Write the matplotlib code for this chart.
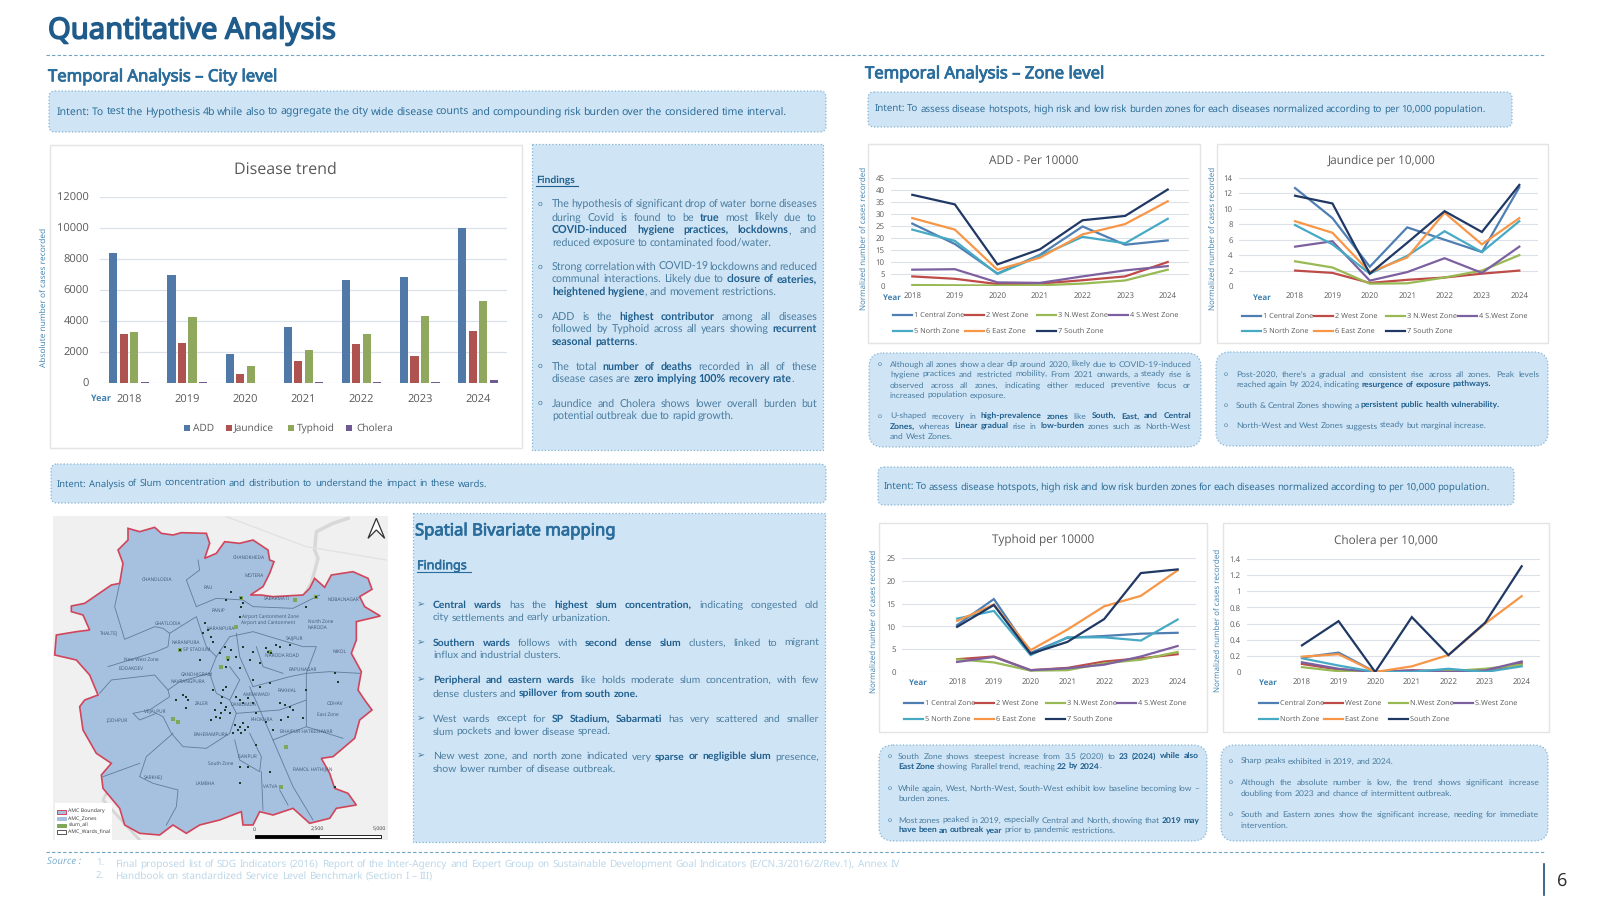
import numpy as np
import matplotlib
matplotlib.use('Agg')
import matplotlib.pyplot as plt
import matplotlib.patheffects as pe
from matplotlib.patches import FancyBboxPatch, Rectangle, Polygon

plt.rcParams['text.hinting'] = 'none'

years = ['2018', '2019', '2020', '2021', '2022', '2023', '2024']

# city level counts
add_cases = [8400, 6970, 1900, 3600, 6630, 6850, 10000]
jaundice_cases = [3150, 2600, 550, 1420, 2520, 1730, 3380]
typhoid_cases = [3270, 4280, 1100, 2100, 3170, 4330, 5320]
cholera_cases = [80, 80, 20, 70, 40, 70, 190]

# zone level, normalized per 10000
add_zones = [
    [26, 17.5, 5.2, 13, 24.8, 17.2, 19],
    [4, 3, 0.8, 1, 2.4, 4, 10],
    [0.4, 0.3, 0.2, 0.3, 1, 2.3, 6.8],
    [6.8, 7, 1.5, 1.3, 4, 6.5, 8.3],
    [23.5, 18.8, 5, 12.5, 20.5, 17.8, 28],
    [28.3, 23.5, 6.8, 11.8, 21.5, 25.8, 35.3],
    [38, 34, 9, 15.3, 27.4, 29.2, 40.2],
]
jaundice_zones = [
    [12.7, 8.8, 2.5, 7.6, 6, 4.4, 12.8],
    [2, 1.7, 0.4, 0.8, 1.1, 1.6, 2],
    [3.2, 2.4, 0.3, 0.35, 1.1, 2, 4],
    [5.1, 5.8, 0.7, 1.8, 3.6, 1.7, 5.1],
    [7.9, 5.4, 1.6, 3.9, 7.1, 4.4, 8.4],
    [8.4, 6.9, 1.8, 3.7, 9.5, 5.4, 8.8],
    [11.7, 10.7, 1.6, 5.6, 9.7, 7, 13.1],
]
typhoid_zones = [
    [10.3, 16, 4.2, 7.5, 7.9, 8.4, 8.6],
    [2.8, 3.4, 0.4, 0.9, 2.3, 3, 3.9],
    [2.8, 2.1, 0.3, 0.4, 1.9, 2.7, 4.4],
    [2.2, 3.3, 0.4, 0.8, 1.6, 3.4, 5.7],
    [11.7, 13.4, 3.7, 7.6, 7.6, 6.9, 11.5],
    [11.2, 14.8, 4.8, 9.3, 14.4, 16.7, 22.3],
    [9.9, 14.7, 4, 6.6, 11.6, 21.7, 22.5],
]
cholera_zones = [
    [0.18, 0.24, 0, 0.01, 0.02, 0.01, 0.12],
    [0.1, 0.03, 0, 0.02, 0.01, 0.01, 0.1],
    [0.06, 0.01, 0, 0.01, 0.01, 0.04, 0.09],
    [0.12, 0.04, 0, 0.02, 0, 0.02, 0.13],
    [0.17, 0.08, 0, 0, 0.04, 0, 0.07],
    [0.19, 0.22, 0, 0.07, 0.21, 0.6, 0.94],
    [0.33, 0.63, 0, 0.68, 0.21, 0.61, 1.31],
]
zone_names = ['1 Central Zone', '2 West Zone', '3 N.West Zone', '4 S.West Zone',
              '5 North Zone', '6 East Zone', '7 South Zone']
cholera_names = ['Central Zone', 'West Zone', 'N.West Zone', 'S.West Zone',
                 'North Zone', 'East Zone', 'South Zone']
zone_colors = ['#4F7FB2', '#BE4B48', '#98B954', '#7D60A0', '#46AAC5', '#F79646', '#203864']

# map outline and lines, in pixels of the map crop
boundary = [(265,85),(300,95),(345,82),(365,100),(400,105),(425,98),(500,100),(510,130),(495,175),(530,160),
            (555,125),(600,130),(640,120),(685,150),(690,180),(703,185),(690,220),(670,260),(632,285),(665,285),(700,290),
            (790,285),(810,265),(825,235),(855,262),(875,225),(940,215),(985,235),(997,268),(960,290),(975,320),
            (1022,348),(950,365),(950,420),(935,460),(965,515),(955,570),(975,600),(997,630),(960,660),(945,715),
            (880,770),(845,775),(870,820),(885,865),(925,880),(950,915),(890,925),(870,955),(810,970),(760,925),
            (700,945),(660,935),(640,975),(610,975),(605,935),(540,960),(480,975),(440,1000),(400,975),(360,1005),
            (300,1000),(255,975),(240,925),(190,865),(185,825),(215,790),(170,760),(130,690),(120,620),(135,600),
            (175,585),(150,525),(110,480),(45,465),(50,405),(110,395),(150,390),(130,345),(95,335),(95,318),
            (135,310),(215,255),(240,250),(250,190),(235,150),(265,120)]
zone_lines = [
    [(240,250),(225,320),(255,418),(345,380),(370,385),(390,400)],
    [(470,320),(440,240),(480,210),(475,180)],
    [(470,320),(530,295),(610,300),(640,320),(760,325),(840,285)],
    [(205,500),(350,455),(385,440),(390,400),(470,350),(500,440),(530,470)],
    [(180,580),(215,540),(345,525),(385,570),(390,590),(330,630),(280,640),(300,660),(350,640),(370,650),(395,700),(430,740),(500,745),(570,700)],
    [(300,830),(320,770),(400,700)],
    [(300,830),(340,850),(415,870),(410,920),(380,975)],
    [(190,830),(300,790)],
    [(630,560),(700,720),(760,860),(820,960)],
    [(585,720),(600,780),(660,815),(665,770),(630,700)],
    [(665,815),(670,930)],
    [(720,870),(745,915)],
    [(530,470),(570,410),(640,395),(790,440),(830,440),(800,520),(870,515),(960,520)],
    [(800,520),(800,680),(910,715)],
    [(700,720),(800,680)],
    [(510,520),(530,580),(570,600),(590,640),(570,700)],
    [(590,400),(600,470),(640,560)],
    [(530,470),(510,520),(420,545),(385,570)],
    [(640,560),(750,530),(800,520)],
    [(590,640),(720,630),(800,600)],
    [(570,500),(600,540),(570,600)],
    [(650,440),(670,500),(730,520)],
]
river = [(925,55),(880,70),(830,95),(825,150),(835,175),(815,250),(800,275)]
slum_dark = [(605,295),(575,275),(560,300),(610,310),(495,370),(520,425),(420,450),(565,480),(590,470),(640,455),
             (685,455),(720,440),(750,435),(545,640),(530,650),(515,660),(560,620),(600,600),(640,610),(440,590),
             (600,680),(615,690),(585,675),(735,615),(745,650),(800,570),(885,520),(895,545),(830,290),(800,320),
             (650,735),(600,800),(625,800),(690,815),(600,850),(885,860),(480,480),(520,570),(550,570),(700,690),(790,655),
             (555,440),(575,450),(610,440),(630,480),(660,490),(680,445),(695,460),(710,435),(540,460),(560,500),(600,505),
             (545,610),(555,630),(570,640),(540,655),(525,630),(590,590),(610,610),(625,595),(650,640),(680,665),(720,610),
             (750,620),(725,660),(760,630),(610,670),(595,690),(625,680),(580,700),(605,700),(445,600),(430,585),(505,390),
             (490,400),(515,410),(600,350),(605,320),(660,560),(690,550),(640,540),(560,560),(548,590),(440,625),(410,600)]
slum_green = [(605,295),(590,380),(420,450),(565,475),(545,500),(400,658),(415,665),(740,740),(725,860),(830,290),(765,300),(690,455)]
ward_labels = [('CHANDLODIA',353,240),('CHANDKHEDA',628,172),('MOTERA',643,226),('RAU',507,263),('RANIP',537,333),
               ('GHATLODIA',385,370),('THALTEJ',207,400),('NARANPURA',438,428),('SP STADIUM',472,450),('New West Zone',305,480),
               ('BODAKDEV',275,507),('GANDHIGRAM',472,523),('NAVRANGPURA',445,544),('JODHPUR',232,662),('VEJALPUR',345,636),
               ('BAHERAMPURA',513,703),('South Zone',543,792),('SARKHEJ',340,833),('LAMBHA',497,850),('VATVA',690,860),
               ('ISANPUR',622,770),('RAMOL HATHIJAN',820,808),('East Zone',863,645),('ODHAV',885,610),('NIKOL',900,456),
               ('BAPUNAGAR',790,510),('RAKHIAL',742,572),('NARODA',832,384),('North Zone',842,365),('NOBALNAGAR',912,298),
               ('SABARMATI',712,295),('Airport Cantonment Zone',693,349),('Airport and Cantonment',685,370),('SAIJPUR',765,415),
               ('NARODA ROAD',727,466),('AMRAIWADI',650,585),('KHOKHRA',665,658),('BHAIPUR HATKESHWAR',800,695),('ZALER',485,612),
               ('NARANPURA',543,385),('DANILIMDA',610,615)]

BODY = 'Lato'
HEAD = 'Noto Sans'
CHART = 'Open Sans'
TXT = '#4A7DA0'
BOLD = '#1F5F8E'
BOX = '#CFE4F5'
EDGE = '#86B4D3'
BLUE = '#3F80AE'
GRAY = '#595959'

fig = plt.figure(figsize=(16, 9), dpi=100, facecolor='white')
bg = fig.add_axes([0, 0, 1, 1], zorder=0)
bg.set_xlim(0, 1600)
bg.set_ylim(900, 0)
bg.axis('off')
renderer = fig.canvas.get_renderer()


def px_axes(x0, y0, x1, y1, z=2):
    ax = fig.add_axes([x0 / 1600, 1 - y1 / 900, (x1 - x0) / 1600, (y1 - y0) / 900], zorder=z)
    ax.patch.set_alpha(0)
    return ax


def box(x0, y0, x1, y1, rad=0, fc=BOX, ec=EDGE, ls=':'):
    style = 'round,pad=0,rounding_size=%d' % rad if rad else 'square,pad=0'
    bg.add_patch(FancyBboxPatch((x0, y0), x1 - x0, y1 - y0, boxstyle=style, fc=fc, ec=ec, lw=0.9, ls=ls))


def heading(x, y, s, size, color, width=0.6, **kw):
    # Noto Sans here has no bold face, a thin stroke thickens it
    t = bg.text(x, y, s, fontsize=size, family=HEAD, color=color, va='center', **kw)
    t.set_path_effects([pe.withStroke(linewidth=width, foreground=color)])
    return t


def line(x0, x1, y, s, size=7.5, fam=BODY, just=True, color=TXT, bold=BOLD):
    # **word** marks bold text, justified lines are spread between x0 and x1
    words = []
    parts = s.split('**')
    for i, part in enumerate(parts):
        glued = i > 0 and bool(parts[i - 1]) and bool(part) and not part[0].isspace() and not parts[i - 1][-1].isspace()
        for j, w in enumerate(part.split()):
            words.append((w, i % 2 == 1, glued and j == 0))
    base = y + size * 1.39 * 0.36
    items = []
    for w, b, g in words:
        t = bg.text(x0, base, w, fontsize=size, family=fam, fontweight='bold' if b else 'normal',
                    color=bold if b else color, va='baseline')
        items.append((t, t.get_window_extent(renderer).width, g))
    total = sum(i[1] for i in items)
    gaps = sum(1 for i in items[1:] if not i[2])
    gap = size * 1.39 * 0.22
    if just and gaps:
        gap = (x1 - x0 - total) / gaps
    x = x0
    for k, (t, wd, g) in enumerate(items):
        if k and not g:
            x += gap
        t.set_x(x)
        x += wd


def block(x0, x1, xb, rows, size=7.5, mark='o', msize=6):
    # rows: (y, text, justified, starts a paragraph)
    for y, s, just, first in rows:
        line(x0, x1, y, s, size=size, just=just)
        if first:
            bg.text(xb, y, mark, fontsize=msize, color=TXT, ha='center', va='center',
                    family='DejaVu Sans' if mark != 'o' else BODY)


def zone_chart(frame, plot, yticks, ylabels, data, names, title, tx, ty, ylx, yly, yearx, yeary, xlo, leg_x, leg_y, leg_dx):
    bg.add_patch(Rectangle((frame[0], frame[1]), frame[2] - frame[0], frame[3] - frame[1], fc='white', ec='#E4E4E4', lw=1))
    ax = px_axes(*plot)
    x = np.arange(len(years))
    for vals, col in zip(data, zone_colors):
        ax.plot(x, vals, color=col, lw=1.6, solid_joinstyle='miter')
    ax.set_xlim(xlo, 6.5)
    ax.set_ylim(yticks[0], yticks[-1])
    ax.set_xticks(x, years)
    ax.set_yticks(yticks, ylabels)
    ax.grid(axis='y', color='#DCE0E8', lw=0.8)
    ax.set_axisbelow(True)
    ax.tick_params(length=0, labelsize=5.7, labelcolor=GRAY, pad=4.5)
    for tick in ax.get_xticklabels() + ax.get_yticklabels():
        tick.set_family(CHART)
    for sp in ax.spines.values():
        sp.set_visible(False)
    bg.text(tx, ty + 1, title, fontsize=8.5, family=CHART, color=GRAY, ha='center', va='center', zorder=3)
    bg.text(ylx, yly, 'Normalized number of cases recorded', fontsize=5.8, family=CHART, color=BLUE,
            rotation=90, ha='center', va='center', zorder=3)
    bg.text(yearx, yeary, 'Year', fontsize=5.8, family=CHART, fontweight='bold', color=BLUE, ha='center', va='center', zorder=3)
    for i, (name, col) in enumerate(zip(names, zone_colors)):
        lx = leg_x + (i % 4) * leg_dx
        ly = leg_y[i // 4]
        bg.plot([lx, lx + 19], [ly, ly], color=col, lw=1.6, zorder=3)
        bg.text(lx + 21, ly + 0.5, name, fontsize=5.3, family=CHART, color=GRAY, va='center', zorder=3)


# header
heading(48, 31, 'Quantitative Analysis', 21, '#1F5C8C', width=1.1)
bg.plot([46, 1546], [55, 55], color='#6FA3C4', lw=0.8, ls=(0, (3, 2)))
bg.plot([46, 1546], [852, 852], color='#6FA3C4', lw=0.8, ls=(0, (3, 2)))
heading(48, 77, 'Temporal Analysis – City level', 12, '#2A6D9C')
heading(865, 74, 'Temporal Analysis – Zone level', 12, '#2A6D9C')

# intent strips
box(49, 91, 826, 132, 6)
line(57, 786, 111, 'Intent: To test the Hypothesis 4b while also to aggregate the city wide disease counts and compounding risk burden over the considered time interval.', size=7.6, fam=HEAD, color='#2F6F9A')
box(868, 92, 1512, 127, 6)
line(875, 1486, 108, 'Intent: To assess disease hotspots, high risk and low risk burden zones for each diseases normalized according to per 10,000 population.', size=7.0, fam=HEAD, color='#2F6F9A')
box(51, 464, 826, 503, 6)
line(57, 487, 483, 'Intent: Analysis of Slum concentration and distribution to understand the impact in these wards.', size=6.8, fam=HEAD, color='#2F6F9A')
box(878, 467, 1514, 505, 6)
line(884, 1490, 486, 'Intent: To assess disease hotspots, high risk and low risk burden zones for each diseases normalized according to per 10,000 population.', size=7.0, fam=HEAD, color='#2F6F9A')

# disease trend bars
bg.add_patch(Rectangle((50, 145), 472, 303, fc='white', ec='#E4E4E4', lw=1))
ax = px_axes(100, 197, 507, 383)
x = np.arange(len(years))
bar_series = [add_cases, jaundice_cases, typhoid_cases, cholera_cases]
bar_names = ['ADD', 'Jaundice', 'Typhoid', 'Cholera']
bar_colors = ['#5179A8', '#AF5350', '#90A85E', '#6F5A92']
for i, (vals, col) in enumerate(zip(bar_series, bar_colors)):
    ax.bar(x + (i - 1.5) * 0.18, vals, width=0.14, color=col)
ax.set_xlim(-0.5, 6.5)
ax.set_ylim(0, 12000)
ax.set_xticks(x, years)
ax.set_yticks(range(0, 12001, 2000))
ax.grid(axis='y', color='#DCE0E8', lw=0.9)
ax.set_axisbelow(True)
ax.tick_params(length=0, labelsize=8, labelcolor=GRAY)
ax.tick_params(axis='x', pad=8.5)
ax.tick_params(axis='y', pad=8)
for tick in ax.get_xticklabels() + ax.get_yticklabels():
    tick.set_family(CHART)
for sp in ax.spines.values():
    sp.set_visible(False)
bg.text(285, 170, 'Disease trend', fontsize=11.5, family=CHART, color=GRAY, ha='center', va='center')
bg.text(44, 297, 'Absolute number of cases recorded', fontsize=6, family=CHART, color=BLUE, rotation=90, ha='center', va='center')
bg.text(101, 399, 'Year', fontsize=6.5, family=CHART, fontweight='bold', color=BLUE, ha='center', va='center')
for name, col, sx, tx in zip(bar_names, bar_colors, [187, 229, 291, 349], [193, 234, 297, 356]):
    bg.add_patch(Rectangle((sx - 3, 425), 6, 6, fc=col, ec='none'))
    bg.text(tx, 428.5, name, fontsize=7.3, family=CHART, color=GRAY, va='center')

# findings next to the bars
box(532, 144, 823, 450)
line(536, 0, 179, '**Findings**', size=7.5, just=False)
bg.plot([536, 578], [186, 186], color=BOLD, lw=0.8)
block(552, 817, 540, [
    (203.3, 'The hypothesis of significant drop of water borne diseases', True, True),
    (216.7, 'during Covid is found to be **true** most likely due to', True, False),
    (229.3, '**COVID-induced hygiene practices, lockdowns**, and', True, False),
    (241.7, 'reduced exposure to contaminated food/water.', False, False),
    (266.3, 'Strong correlation with COVID-19 lockdowns and reduced', True, True),
    (278.3, 'communal interactions. Likely due to **closure of eateries,**', True, False),
    (291, '**heightened hygiene**, and movement restrictions.', False, False),
    (315.7, 'ADD is the **highest contributor** among all diseases', True, True),
    (328.3, 'followed by Typhoid across all years showing **recurrent**', True, False),
    (341, '**seasonal patterns**.', False, False),
    (365.7, 'The total **number of deaths** recorded in all of these', True, True),
    (378.3, 'disease cases are **zero implying 100% recovery rate**.', False, False),
    (403, 'Jaundice and Cholera shows lower overall burden but', True, True),
    (415.3, 'potential outbreak due to rapid growth.', False, False),
], size=7.7)

# map
mp = px_axes(53, 516, 388, 840, z=1)
mp.set_xlim(40, 1045)
mp.set_ylim(1020, 48)
mp.patch.set_alpha(1)
mp.set_facecolor('#F0F0F0')
mp.set_xticks([])
mp.set_yticks([])
for sp in mp.spines.values():
    sp.set_visible(False)
mp.plot(*zip(*river), color='#D8D8D8', lw=2.5)
mp.plot([560, 800, 1040], [50, 140, 180], color='#E2E2E2', lw=1)
mp.plot([300, 190, 210], [1020, 900, 860], color='#D6D6D6', lw=2)
mp.add_patch(Polygon(boundary, closed=True, fc='#A6C0E0', ec='#D1455B', lw=1.2, zorder=2))
for seg in zone_lines:
    mp.plot(*zip(*seg), color='#5F7C9A', lw=0.6, zorder=3)
mp.scatter(*zip(*slum_green), s=9, color='#7EA75A', marker='s', lw=0, zorder=4)
mp.scatter(*zip(*slum_dark), s=2.5, color='#1D3B2F', marker='s', lw=0, zorder=5)
for name, lx, ly in ward_labels:
    mp.text(lx, ly, name, fontsize=3.4, family=CHART, color='#3F5670', ha='center', va='center', zorder=6)
mp.add_patch(Polygon([(1010, 55), (985, 115), (1010, 90), (1035, 115)], closed=True, fc='white', ec='#333333', lw=0.9, zorder=6))
mp.add_patch(Rectangle((45, 908), 172, 112, fc='white', ec='none', zorder=6))
map_legend = ['AMC Boundary', 'AMC_Zones', 'slum_all', 'AMC_Wards_final']
map_fc = ['#A6C0E0', '#A6C0E0', '#7EA75A', 'white']
map_ec = ['#D1455B', '#A6C0E0', '#7EA75A', '#555555']
for i, (name, fc, ec) in enumerate(zip(map_legend, map_fc, map_ec)):
    ly = 936 + i * 20
    mp.add_patch(Rectangle((52, ly - 5), 28, 10, fc=fc, ec=ec, lw=0.7, zorder=7))
    mp.text(86, ly, name, fontsize=3.8, family=CHART, color='#333333', va='center', zorder=7)
for a, b, c in [(645, 837, 'black'), (837, 1023, 'white')]:
    mp.add_patch(Rectangle((a, 1005), b - a, 10, fc=c, ec='black', lw=0.6, zorder=7))
for lab, lx in zip(['0', '2,500', '5,000'], [645, 834, 1020]):
    mp.text(lx, 988, lab, fontsize=3.8, family=CHART, color='#333333', ha='center', va='center', zorder=7)

# spatial findings
box(413, 513, 825, 842)
heading(415, 531, 'Spatial Bivariate mapping', 12, '#2A6D9C')
heading(417, 566, 'Findings', 9, '#2A6D9C', width=0.4)
bg.plot([417, 471], [572, 572], color='#2A6D9C', lw=0.8)
block(433, 819, 421, [
    (604.3, '**Central wards** has the **highest slum concentration,** indicating congested old', True, True),
    (617, 'city settlements and early urbanization.', False, False),
    (641.7, '**Southern wards** follows with **second dense slum** clusters, linked to migrant', True, True),
    (654.3, 'influx and industrial clusters.', False, False),
    (679.3, '**Peripheral and eastern wards** like holds moderate slum concentration, with few', True, True),
    (692.7, 'dense clusters and **spillover from south zone.**', False, False),
    (718, 'West wards except for **SP Stadium, Sabarmati** has very scattered and smaller', True, True),
    (730.7, 'slum pockets and lower disease spread.', False, False),
    (755.3, 'New west zone, and north zone indicated very **sparse or negligible slum** presence,', True, True),
    (768, 'show lower number of disease outbreak.', False, False),
], size=7.5, mark='➢', msize=7)

# zone charts
zone_chart((868, 144, 1200, 343), (891, 178, 1189, 286), [0, 5, 10, 15, 20, 25, 30, 35, 40, 45],
           ['0', '5', '10', '15', '20', '25', '30', '35', '40', '45'], add_zones, zone_names,
           'ADD - Per 10000', 1034, 160, 864, 238, 892, 298, -0.5, 893, (315, 331), 72)
zone_chart((1217, 144, 1548, 343), (1239, 178, 1538, 286), [0, 2, 4, 6, 8, 10, 12, 14],
           ['0', '2', '4', '6', '8', '10', '12', '14'], jaundice_zones, zone_names,
           'Jaundice per 10,000', 1382, 160, 1213, 238, 1262, 298, -1.5, 1242, (316, 331), 72)
zone_chart((879, 523, 1207, 732), (902, 558, 1196, 672), [0, 5, 10, 15, 20, 25],
           ['0', '5', '10', '15', '20', '25'], typhoid_zones, zone_names,
           'Typhoid per 10000', 1043, 539, 874, 621, 918, 683, -1.5, 904, (703, 719), 71)
zone_chart((1223, 523, 1549, 732), (1247, 559, 1540, 672), [0, 0.2, 0.4, 0.6, 0.8, 1.0, 1.2, 1.4],
           ['0', '0.2', '0.4', '0.6', '0.8', '1', '1.2', '1.4'], cholera_zones, cholera_names,
           'Cholera per 10,000', 1386, 540, 1218, 620, 1268, 683, -1.5, 1259, (703, 719), 65)

# zone notes
box(869, 353, 1201, 447, 14)
block(890, 1191, 880, [
    (364, 'Although all zones show a clear dip around 2020, likely due to COVID-19-induced', True, True),
    (374, 'hygiene practices and restricted mobility, From 2021 onwards, a steady rise is', True, False),
    (385, 'observed across all zones, indicating either reduced preventive focus or', True, False),
    (395, 'increased population exposure.', False, False),
    (416, 'U-shaped recovery in **high-prevalence zones** like **South, East, and Central**', True, True),
    (426, '**Zones,** whereas **Linear gradual** rise in **low-burden** zones such as North-West', True, False),
    (436, 'and West Zones.', False, False),
], size=6.1, msize=5)
box(1216, 352, 1548, 446, 14)
block(1236, 1539, 1226, [
    (374, "Post-2020, there's a gradual and consistent rise across all zones. Peak levels", True, True),
    (384, 'reached again by 2024, indicating **resurgence of exposure pathways.**', False, False),
    (405, 'South & Central Zones showing a **persistent public health vulnerability.**', False, True),
    (425, 'North-West and West Zones suggests steady but marginal increase.', False, True),
], size=6.1, msize=5)
box(879, 745, 1207, 841, 14)
block(898, 1199, 890, [
    (756, 'South Zone shows steepest increase from 3.5 (2020) to **23 (2024) while also**', True, True),
    (766, '**East Zone** showing Parallel trend, reaching **22 by 2024**.', False, False),
    (788, 'While again, West, North-West, South-West exhibit low baseline becoming low –', True, True),
    (798, 'burden zones.', False, False),
    (820, 'Most zones peaked in 2019, especially Central and North, showing that **2019 may**', True, True),
    (830, '**have been an outbreak year** prior to pandemic restrictions.', False, False),
], size=6.1, msize=5)
box(1221, 745, 1548, 841, 14)
block(1241, 1539, 1231, [
    (761, 'Sharp peaks exhibited in 2019, and 2024.', False, True),
    (782, 'Although the absolute number is low, the trend shows significant increase', True, True),
    (793, 'doubling from 2023 and chance of intermittent outbreak.', False, False),
    (814, 'South and Eastern zones show the significant increase, needing for immediate', True, True),
    (825, 'intervention.', False, False),
], size=6.1, msize=5)

# footer
bg.text(47, 861, 'Source :', fontsize=7, family=HEAD, style='italic', color='#7FB0CF', va='center')
bg.text(96, 863, '1.', fontsize=7, family=HEAD, color='#BCD7E8', va='center')
bg.text(96, 875, '2.', fontsize=7, family=HEAD, color='#BCD7E8', va='center')
line(115, 900, 863, 'Final proposed list of SDG Indicators (2016) Report of the Inter-Agency and Expert Group on Sustainable Development Goal Indicators (E/CN.3/2016/2/Rev.1), Annex IV', size=7.2, fam=HEAD, color='#BCD7E8')
line(115, 433, 875, 'Handbook on standardized Service Level Benchmark (Section I – III)', size=7.2, fam=HEAD, color='#BCD7E8')
bg.plot([1544, 1544], [864, 895], color='#1F4E79', lw=1.2)
bg.text(1562, 881, '6', fontsize=13, family=HEAD, color='#333333', ha='center', va='center')

fig.savefig('out.png', dpi=100)
